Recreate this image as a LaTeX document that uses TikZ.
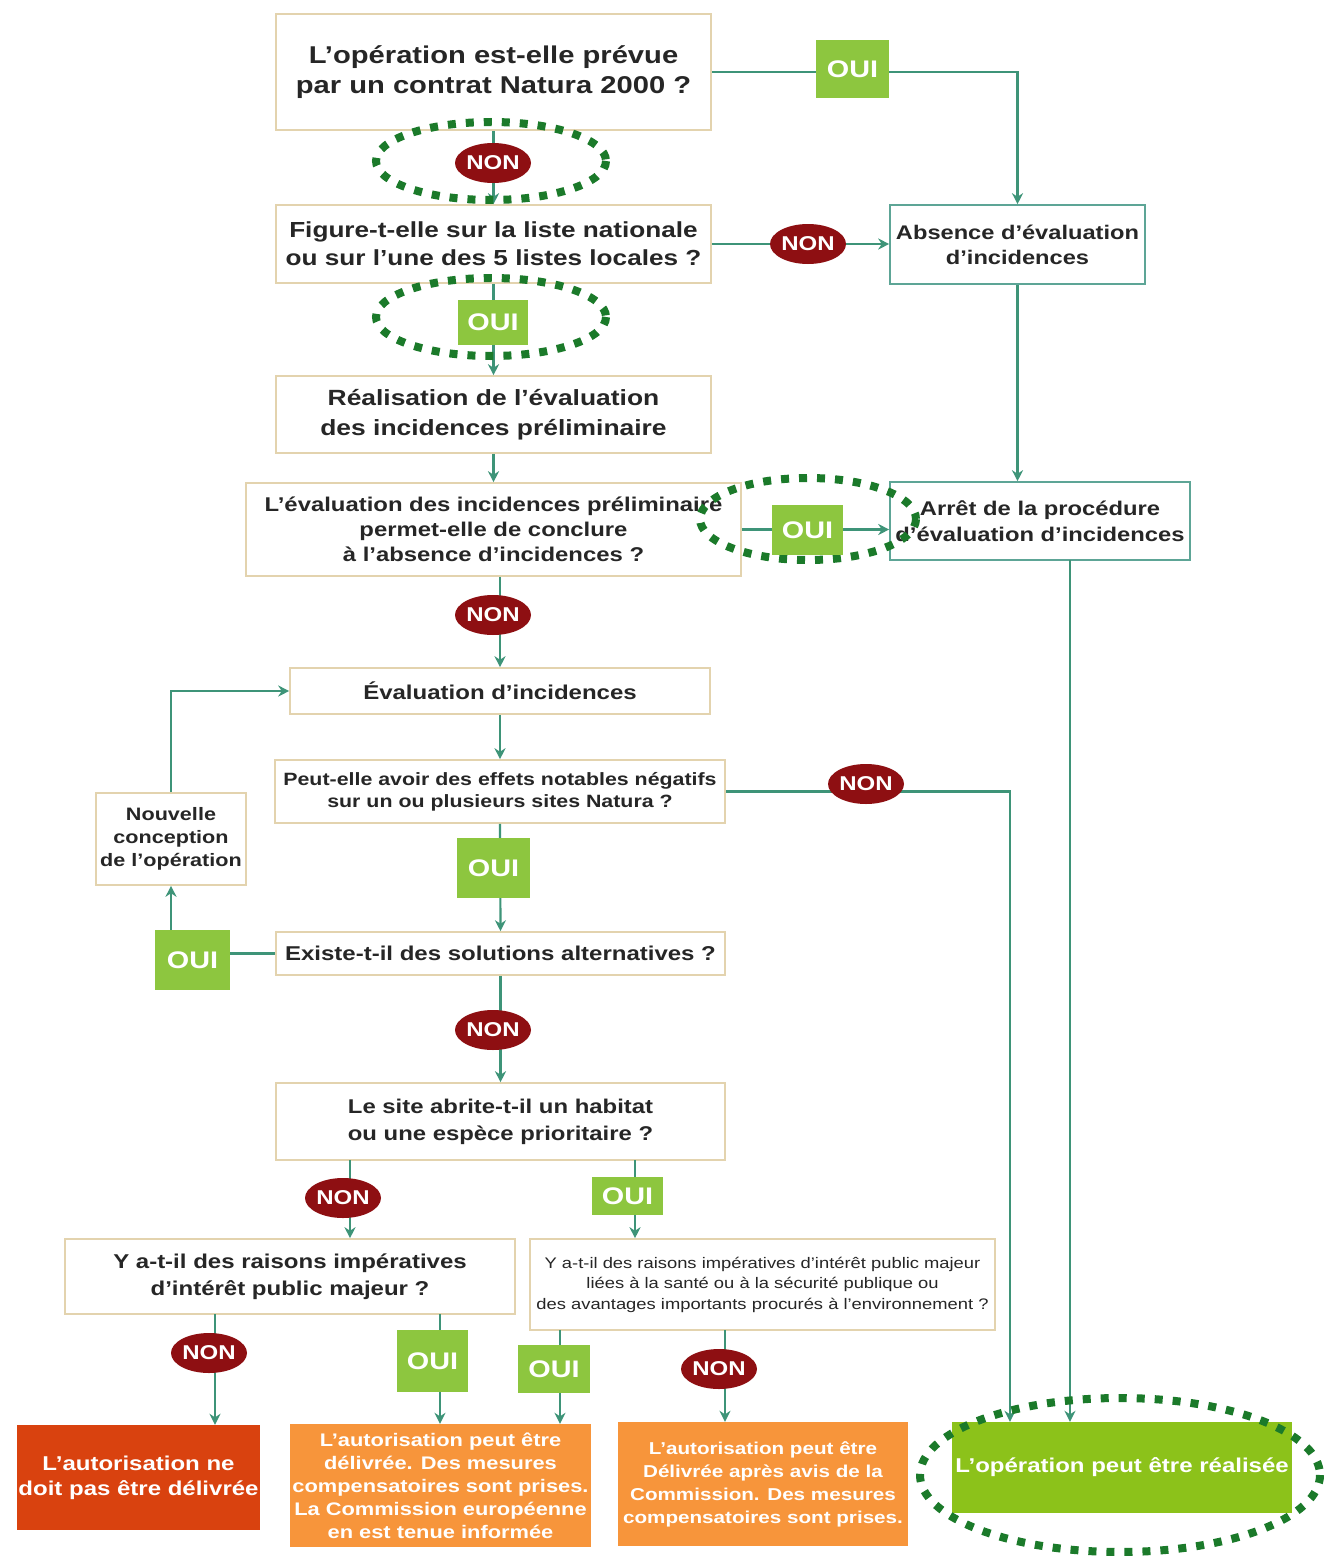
\documentclass[tikz,border=0pt]{standalone}
\usepackage{fontspec}
\setmainfont{Liberation Sans}
\newfontfamily\gothic[FakeStretch=1.2]{Liberation Sans}
\usetikzlibrary{shapes.geometric,arrows.meta}
\definecolor{tanb}{HTML}{E3D3AE}
\definecolor{tealc}{HTML}{3E9478}
\definecolor{tealbox}{HTML}{5DA596}
\definecolor{ouig}{HTML}{8DC63F}
\definecolor{nonr}{HTML}{8E0F12}
\definecolor{dotg}{HTML}{1B7A2A}
\definecolor{redbox}{HTML}{D9420F}
\definecolor{orbox}{HTML}{F7953B}
\definecolor{finbox}{HTML}{8CC21A}
\definecolor{txt}{HTML}{262626}
\newcommand{\fsz}[2]{\fontsize{#1}{#2}\selectfont}
\tikzset{
  box/.style={draw=tanb, line width=1.6pt, fill=white, align=center, inner sep=0pt, text=txt},
  tbox/.style={box, draw=tealbox},
  cbox/.style={align=center, inner sep=0pt, text=white},
  oui/.style={fill=ouig, text=white, inner sep=0pt, font=\gothic\bfseries\fsz{24}{24}},
  non/.style={ellipse, fill=nonr, text=white, inner sep=0pt, minimum width=76pt, minimum height=40pt, font=\gothic\bfseries\fsz{20}{20}},
  dots/.style={draw=dotg, line width=8pt, dash pattern=on 8pt off 10pt},
  arr/.style={draw=tealc, line width=2.2pt, -{Stealth[length=11pt,width=11pt]}},
  ln/.style={draw=tealc, line width=2.2pt}
}
\begin{document}
\begin{tikzpicture}[x=1pt,y=-1pt]
\useasboundingbox[fill=white] (0,0) rectangle (1326,1557);
% boxes
\node[box, minimum width=435pt, minimum height=116pt, font=\gothic\bfseries\fsz{24.3}{30}] (b1) at (493.5,72) {L’opération est-elle prévue\\par un contrat Natura 2000 ?};
\node[box, minimum width=435pt, minimum height=78pt, font=\gothic\bfseries\fsz{21.8}{28}] (b2) at (493.5,244) {Figure-t-elle sur la liste nationale\\ou sur l’une des 5 listes locales ?};
\node[box, minimum width=435pt, minimum height=77pt, font=\gothic\bfseries\fsz{22}{30}] (b3) at (493.5,414.5) {Réalisation de l’évaluation\\des incidences préliminaire};
\node[box, minimum width=495pt, minimum height=93pt, font=\gothic\bfseries\fsz{19.9}{25}] (b4) at (493.5,529.5) {L’évaluation des incidences préliminaire\\permet-elle de conclure\\à l’absence d’incidences ?};
\node[box, minimum width=420pt, minimum height=46pt, font=\gothic\bfseries\fsz{20}{25}] (b5) at (500,691) {Évaluation d’incidences};
\node[box, minimum width=450pt, minimum height=63pt, font=\gothic\bfseries\fsz{17.8}{22}] (b6) at (500,791.5) {Peut-elle avoir des effets notables négatifs\\sur un ou plusieurs sites Natura ?};
\node[box, minimum width=449pt, minimum height=43pt, font=\gothic\bfseries\fsz{20}{24}] (b7) at (500.5,953.5) {Existe-t-il des solutions alternatives ?};
\node[box, minimum width=449pt, minimum height=77pt, font=\gothic\bfseries\fsz{19.9}{27}] (b8) at (500.5,1121.5) {Le site abrite-t-il un habitat\\ou une espèce prioritaire ?};
\node[box, minimum width=450pt, minimum height=75pt, font=\gothic\bfseries\fsz{20}{27}] (b9) at (290,1276.5) {Y a-t-il des raisons impératives\\d’intérêt public majeur ?};
\node[box, minimum width=465pt, minimum height=91pt, font=\gothic\fsz{15.3}{20.5}] (b10) at (762.5,1284.5) {Y a-t-il des raisons impératives d’intérêt public majeur\\liées à la santé ou à la sécurité publique ou\\des avantages importants procurés à l’environnement ?};
\node[tbox, minimum width=255pt, minimum height=79pt, font=\gothic\bfseries\fsz{19.7}{25}] (abs) at (1017.5,244.5) {Absence d’évaluation\\d’incidences};
\node[tbox, minimum width=300pt, minimum height=78pt, font=\gothic\bfseries\fsz{19.8}{26}] (arret) at (1040,521) {Arrêt de la procédure\\d’évaluation d’incidences};
\node[box, minimum width=150pt, minimum height=92pt, font=\gothic\bfseries\fsz{18}{23}] (nouv) at (171,839) {Nouvelle\\conception\\de l’opération};
\node[cbox, fill=redbox, minimum width=243pt, minimum height=105pt, font=\gothic\bfseries\fsz{20}{25}] (red) at (138.5,1477.5) {L’autorisation ne\\doit pas être délivrée};
\node[cbox, fill=orbox, minimum width=301pt, minimum height=123pt, font=\gothic\bfseries\fsz{18.2}{23}] (or1) at (440.5,1485.5) {L’autorisation peut être\\délivrée. Des mesures\\compensatoires sont prises.\\La Commission européenne\\en est tenue informée};
\node[cbox, fill=orbox, minimum width=290pt, minimum height=124pt, font=\gothic\bfseries\fsz{17.2}{23}] (or2) at (763,1484) {L’autorisation peut être\\Délivrée après avis de la\\Commission. Des mesures\\compensatoires sont prises.};
\node[cbox, fill=finbox, minimum width=340pt, minimum height=91pt, font=\gothic\bfseries\fsz{20}{24}] (fin) at (1122,1467.5) {L’opération peut être réalisée};
% helper coordinates
\coordinate (c1) at (1010,791.5);
\coordinate (c2) at (1070,560);
\coordinate (c3) at (350,1160);
\coordinate (c4) at (635,1160);
\coordinate (c5) at (215,1314);
\coordinate (c6) at (440,1314);
\coordinate (c7) at (560,1330);
\coordinate (c8) at (725,1330);
% connectors
\draw[arr] (b1.east) -| (abs.north);
\draw[arr] (b1.south) -- (b2.north);
\draw[arr] (b2.east) -- (b2.east -| abs.west);
\draw[arr] (b2.south) -- (b3.north);
\draw[arr] (abs.south) -- (abs.south |- arret.north);
\draw[arr] (b3.south) -- (b4.north);
\draw[arr] (b4.east) -- (b4.east -| arret.west);
\draw[arr] (b5.north |- b4.south) -- (b5.north);
\draw[arr] (b5.south) -- (b6.north);
\draw[arr] (b6.east) -- (c1) -- (c1 |- fin.north);
\draw[arr] (c2) -- (c2 |- fin.north);
\draw[arr] (b6.south) -- (b7.north);
\draw[ln] (b7.west) -- (b7.west -| 192.5,0);
\draw[arr] (171,930) -- (nouv.south);
\draw[arr] (nouv.north) |- (b5.west);
\draw[arr] (b7.south) -- (b8.north);
\draw[arr] (c3) -- (c3 |- b9.north);
\draw[arr] (c4) -- (c4 |- b10.north);
\draw[arr] (c5) -- (c5 |- red.north);
\draw[arr] (c6) -- (c6 |- or1.north);
\draw[arr] (c7) -- (c7 |- or1.north);
\draw[arr] (c8) -- (c8 |- or2.north);
% dotted ellipses
\draw[dots] (491,161) ellipse [x radius=115, y radius=39];
\draw[dots] (491,317) ellipse [x radius=115, y radius=39];
\draw[dots] (808,519) ellipse [x radius=108, y radius=41];
\draw[dots] (1120,1475) ellipse [x radius=200, y radius=77];
% labels
\node[oui, minimum width=73pt, minimum height=58pt] (o1) at (852.5,69) {OUI};
\node[non] (n1) at (493,163) {NON};
\node[non] (n2) at (808,244) {NON};
\node[oui, minimum width=70pt, minimum height=45pt] (o2) at (493,322) {OUI};
\node[oui, minimum width=71pt, minimum height=50pt] (o3) at (807.5,530) {OUI};
\node[non] (n3) at (493,615) {NON};
\node[non] (n4) at (866,784) {NON};
\node[oui, minimum width=73pt, minimum height=60pt] (o4) at (493.5,868) {OUI};
\node[oui, minimum width=75pt, minimum height=60pt] (oL) at (192.5,960) {OUI};
\node[non] (n5) at (493,1030) {NON};
\node[non] (n6) at (343,1198) {NON};
\node[oui, minimum width=71pt, minimum height=38pt] (o5) at (627.5,1196) {OUI};
\node[non] (n7) at (209,1353) {NON};
\node[oui, minimum width=71pt, minimum height=62pt] (o6) at (432.5,1361) {OUI};
\node[oui, minimum width=72pt, minimum height=48pt] (o7) at (554,1369) {OUI};
\node[non] (n8) at (719,1369) {NON};
\end{tikzpicture}
\end{document}
